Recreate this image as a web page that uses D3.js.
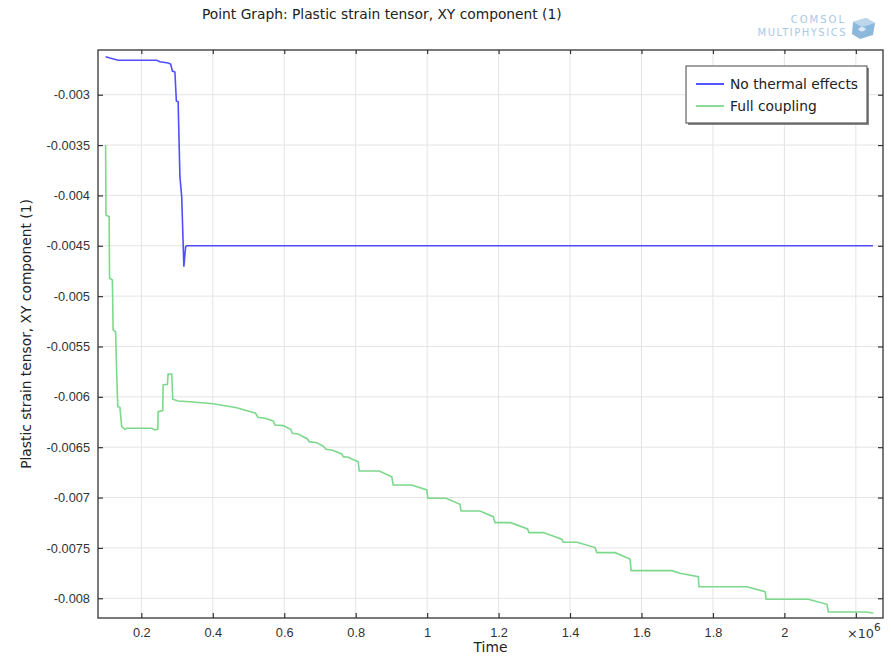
<!DOCTYPE html>
<html>
<head>
<meta charset="utf-8">
<script src="https://cdn.jsdelivr.net/npm/d3@7"></script>
<style>
  body { margin: 0; background: #fff; }
  svg { font-family: "DejaVu Sans", sans-serif; }
  .tick-label { font-size: 12.8px; fill: #333; }
</style>
</head>
<body>
<div id="chart"></div>
<script>
// Point graph: plastic strain tensor XY component vs time (time in 1e6 s)

var svgWidth = 891;
var svgHeight = 657;
var plot = { left: 98, right: 883, top: 50, bottom: 618 };

// No thermal effects
var timeBlue = [0.100, 0.112, 0.135, 0.243, 0.252, 0.275, 0.282, 0.287, 0.294, 0.298,
    0.303, 0.308, 0.313, 0.319, 0.324, 0.327, 2.248];
var strainBlue = [-0.002623, -0.002636, -0.002658, -0.002658, -0.002672, -0.002685, -0.002695, -0.002765, -0.002775, -0.003063,
    -0.00307, -0.003814, -0.004013, -0.004708, -0.004509, -0.0045, -0.0045];

// Full coupling
var timeGreen = [0.100, 0.101, 0.110, 0.111, 0.119, 0.121, 0.128, 0.131, 0.134, 0.140,
    0.145, 0.154, 0.159, 0.229, 0.238, 0.246, 0.247, 0.260, 0.261, 0.273,
    0.275, 0.285, 0.288, 0.303, 0.336, 0.401, 0.467, 0.520, 0.526, 0.546,
    0.569, 0.574, 0.597, 0.618, 0.623, 0.639, 0.665, 0.670, 0.691, 0.711,
    0.717, 0.733, 0.761, 0.765, 0.779, 0.807, 0.810, 0.866, 0.901, 0.905,
    0.957, 0.999, 1.002, 1.053, 1.092, 1.095, 1.148, 1.185, 1.190, 1.234,
    1.281, 1.285, 1.325, 1.377, 1.381, 1.420, 1.470, 1.475, 1.526, 1.568,
    1.571, 1.685, 1.708, 1.759, 1.761, 1.895, 1.946, 1.949, 2.067, 2.119,
    2.123, 2.231, 2.249];
var strainGreen = [-0.0035, -0.004194, -0.004211, -0.004823, -0.00484, -0.005336, -0.005356, -0.00576, -0.006098, -0.006104,
    -0.006296, -0.006322, -0.006312, -0.006312, -0.006329, -0.006322, -0.006147, -0.006137, -0.005882, -0.005875,
    -0.005773, -0.005773, -0.006024, -0.006041, -0.006048, -0.006068, -0.006108, -0.006163, -0.006203, -0.006213,
    -0.00624, -0.006279, -0.006286, -0.006322, -0.006362, -0.006369, -0.006418, -0.006445, -0.006455, -0.006495,
    -0.00652, -0.006527, -0.006567, -0.006594, -0.0066, -0.006644, -0.006736, -0.006736, -0.006793, -0.006875,
    -0.006875, -0.006924, -0.007007, -0.007007, -0.007067, -0.007133, -0.007133, -0.00719, -0.007249, -0.007249,
    -0.007312, -0.007348, -0.007348, -0.007414, -0.007444, -0.007444, -0.007497, -0.007547, -0.007547, -0.00761,
    -0.007726, -0.007726, -0.007752, -0.007785, -0.007885, -0.007885, -0.007934, -0.00801, -0.00801, -0.00806,
    -0.008136, -0.008136, -0.008149];

var xTicks = [0.2, 0.4, 0.6, 0.8, 1, 1.2, 1.4, 1.6, 1.8, 2, 2.2];
var yTicks = [-0.003, -0.0035, -0.004, -0.0045, -0.005, -0.0055, -0.006, -0.0065, -0.007, -0.0075, -0.008];
var seriesNames = ["No thermal effects", "Full coupling"];

var svg = d3.select("#chart")
    .append("svg")
    .attr("width", svgWidth)
    .attr("height", svgHeight);

var xScale = d3.scaleLinear().domain([0.0787, 2.276]).range([plot.left, plot.right]);
var yScale = d3.scaleLinear().domain([-0.008196, -0.002556]).range([plot.bottom, plot.top]);

// grid
svg.append("g").selectAll("line")
    .data(xTicks).enter().append("line")
    .attr("x1", d => xScale(d)).attr("x2", d => xScale(d))
    .attr("y1", plot.top).attr("y2", plot.bottom)
    .attr("stroke", "#e4e4e4").attr("stroke-width", 1);
svg.append("g").selectAll("line")
    .data(yTicks).enter().append("line")
    .attr("y1", d => yScale(d)).attr("y2", d => yScale(d))
    .attr("x1", plot.left).attr("x2", plot.right)
    .attr("stroke", "#e4e4e4").attr("stroke-width", 1);

// axes, ticks pointing inward
var xAxisB = d3.axisBottom(xScale).tickValues(xTicks).tickSizeInner(-5).tickSizeOuter(0).tickPadding(10)
    .tickFormat(d => d === 2.2 ? "" : String(d));
var xAxisT = d3.axisTop(xScale).tickValues(xTicks).tickSizeInner(-4).tickSizeOuter(0).tickFormat("");
var yAxisL = d3.axisLeft(yScale).tickValues(yTicks).tickSizeInner(-5).tickSizeOuter(0).tickPadding(8)
    .tickFormat(d => String(+d.toFixed(4)));
var yAxisR = d3.axisRight(yScale).tickValues(yTicks).tickSizeInner(-5).tickSizeOuter(0).tickFormat("");

function styleAxis(g) {
    g.select(".domain").remove();
    g.selectAll(".tick line").attr("stroke", "#333").attr("stroke-width", 1.2);
    g.selectAll(".tick text").attr("class", "tick-label").attr("font-size", null).attr("font-family", null);
}

svg.append("g").attr("transform", `translate(0,${plot.bottom})`).call(xAxisB).call(styleAxis);
svg.append("g").attr("transform", `translate(0,${plot.top})`).call(xAxisT).call(styleAxis);
svg.append("g").attr("transform", `translate(${plot.left},0)`).call(yAxisL).call(styleAxis);
svg.append("g").attr("transform", `translate(${plot.right},0)`).call(yAxisR).call(styleAxis);

// x10^6 exponent in place of the last tick label
var expo = svg.append("text")
    .attr("class", "tick-label")
    .attr("x", xScale(2.2) + 8)
    .attr("y", plot.bottom + 20)
    .attr("text-anchor", "middle")
    .text("\u00d710");
expo.append("tspan").attr("dy", -7).attr("font-size", "10.5px").text("6");

// clip + lines
svg.append("clipPath").attr("id", "clip").append("rect")
    .attr("x", plot.left).attr("y", plot.top)
    .attr("width", plot.right - plot.left).attr("height", plot.bottom - plot.top);

var line = d3.line()
    .x(d => xScale(d[0]))
    .y(d => yScale(d[1]));

var blueData = d3.zip(timeBlue, strainBlue);
var greenData = d3.zip(timeGreen, strainGreen);

svg.append("path")
    .datum(greenData)
    .attr("clip-path", "url(#clip)")
    .attr("fill", "none")
    .attr("stroke", "#7dd88c")
    .attr("stroke-width", 1.6)
    .attr("d", line);

svg.append("path")
    .datum(blueData)
    .attr("clip-path", "url(#clip)")
    .attr("fill", "none")
    .attr("stroke", "#4f4fff")
    .attr("stroke-width", 1.6)
    .attr("d", line);

// frame
svg.append("rect")
    .attr("x", plot.left).attr("y", plot.top)
    .attr("width", plot.right - plot.left).attr("height", plot.bottom - plot.top)
    .attr("fill", "none").attr("stroke", "#333").attr("stroke-width", 1.3);

// title + axis labels
svg.append("text")
    .attr("x", 202).attr("y", 19)
    .attr("font-size", "13.8px").attr("fill", "#222")
    .text("Point Graph: Plastic strain tensor, XY component (1)");

svg.append("text")
    .attr("transform", "rotate(-90)")
    .attr("x", -(plot.top + plot.bottom) / 2)
    .attr("y", 31)
    .attr("text-anchor", "middle")
    .attr("font-size", "13.8px").attr("fill", "#222")
    .text("Plastic strain tensor, XY component (1)");

svg.append("text")
    .attr("x", (plot.left + plot.right) / 2)
    .attr("y", 652)
    .attr("text-anchor", "middle")
    .attr("font-size", "13.8px").attr("fill", "#222")
    .text("Time");

// legend
var legend = svg.append("g").attr("transform", "translate(686,66)");
legend.append("rect").attr("x", 2).attr("y", 2).attr("width", 181).attr("height", 57).attr("fill", "#888");
legend.append("rect").attr("width", 181).attr("height", 57).attr("fill", "#fff")
    .attr("stroke", "#444").attr("stroke-width", 1);
var legendColors = ["#2b2bff", "#6fd17e"];
seriesNames.forEach(function(name, i) {
    legend.append("line")
        .attr("x1", 10).attr("x2", 38)
        .attr("y1", 18 + i * 22).attr("y2", 18 + i * 22)
        .attr("stroke", legendColors[i]).attr("stroke-width", 1.6);
    legend.append("text")
        .attr("x", 44).attr("y", 23 + i * 22)
        .attr("font-size", "13.8px").attr("fill", "#222")
        .text(name);
});

// COMSOL watermark
var wm = svg.append("g").attr("fill", "#a9c9e4");
wm.append("text").attr("x", 846).attr("y", 23).attr("text-anchor", "end")
    .attr("font-size", "10px").attr("letter-spacing", "2").text("COMSOL");
wm.append("text").attr("x", 847).attr("y", 36).attr("text-anchor", "end")
    .attr("font-size", "10px").attr("letter-spacing", "1.5").text("MULTIPHYSICS");
wm.append("polygon").attr("points", "853,22 866,18 875,23 873,35 860,39 852,34").attr("fill", "#8cb8dc");
wm.append("polygon").attr("points", "853,22 866,18 875,23 862,27").attr("fill", "#bcd6ec");
wm.append("path").attr("d", "M858,29 q4,-4 8,0 q-4,5 -8,0").attr("fill", "#fff").attr("opacity", 0.7);
</script>
</body>
</html>
